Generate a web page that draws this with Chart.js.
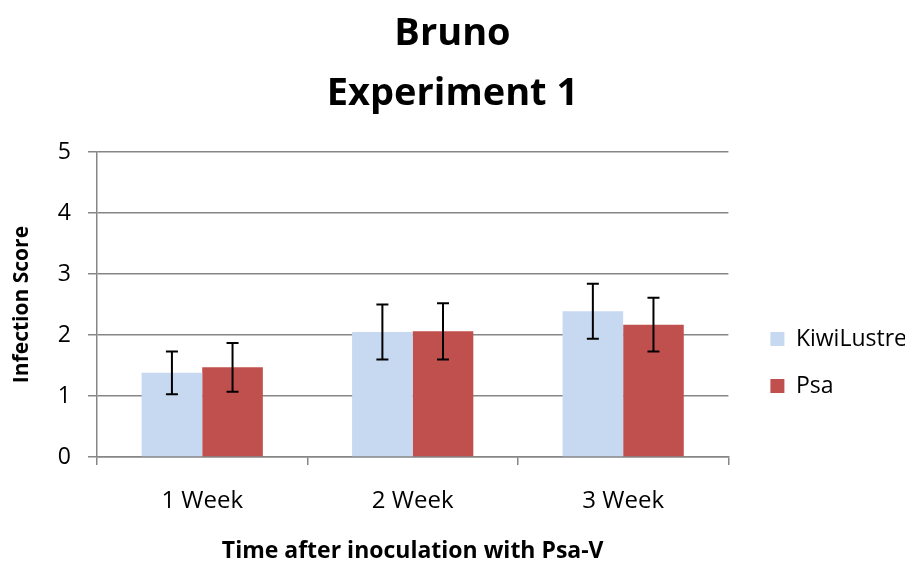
<!DOCTYPE html>
<html>
<head>
<meta charset="utf-8">
<script src="https://cdn.jsdelivr.net/npm/chart.js@4.4.1/dist/chart.umd.min.js"></script>
<style>
	html, body { margin: 0; padding: 0; background: #fff; }
	#wrap { width: 905px; height: 563px; }
</style>
</head>
<body>
<div id="wrap"><canvas id="c" width="905" height="563"></canvas></div>
<script>
const categories = ['1 Week', '2 Week', '3 Week'];
const seriesNames = ['KiwiLustre', 'Psa'];
const kiwiLustre = [1.38, 2.05, 2.39];
const psa = [1.47, 2.06, 2.17];
const kiwiLustreErr = [0.35, 0.45, 0.45];
const psaErr = [0.40, 0.46, 0.44];
const yTicks = [0, 1, 2, 3, 4, 5];

const FONT = '"Open Sans", sans-serif';
const GRID = '#868686';

// draws the black error bars on top of every bar
const errorBars = {
	id: 'errorBars',
	afterDatasetsDraw(chart) {
		const ctx = chart.ctx;
		const yScale = chart.scales.y;
		ctx.save();
		ctx.strokeStyle = '#000';
		ctx.lineWidth = 2;
		chart.data.datasets.forEach((ds, i) => {
			const meta = chart.getDatasetMeta(i);
			meta.data.forEach((bar, j) => {
				const v = ds.data[j], e = ds.errors[j];
				const top = yScale.getPixelForValue(v + e);
				const bot = yScale.getPixelForValue(v - e);
				ctx.beginPath();
				ctx.moveTo(bar.x, top); ctx.lineTo(bar.x, bot);
				ctx.moveTo(bar.x - 6, top); ctx.lineTo(bar.x + 6, top);
				ctx.moveTo(bar.x - 6, bot); ctx.lineTo(bar.x + 6, bot);
				ctx.stroke();
			});
		});
		ctx.restore();
	}
};

new Chart(document.getElementById('c'), {
	type: 'bar',
	data: {
		labels: categories,
		datasets: [
			{
				label: seriesNames[0],
				data: kiwiLustre,
				errors: kiwiLustreErr,
				backgroundColor: '#C6D9F1',
				borderWidth: 0
			},
			{
				label: seriesNames[1],
				data: psa,
				errors: psaErr,
				backgroundColor: '#C0504D',
				borderWidth: 0
			}
		]
	},
	options: {
		responsive: false,
		animation: false,
		// symmetric negative side padding keeps the title centred on the canvas
		layout: { padding: { left: -12, right: -12, top: 0, bottom: 0 } },
		datasets: { bar: { categoryPercentage: 0.576, barPercentage: 1.0 } },
		plugins: {
			tooltip: { enabled: false },
			title: {
				display: true,
				text: ['Bruno', 'Experiment 1'],
				color: '#000',
				font: { family: FONT, size: 38, weight: 'bold', lineHeight: 1.58 },
				padding: { top: 4, bottom: 28 }
			},
			legend: {
				position: 'right',
				maxWidth: 240,
				title: { display: true, text: ' ', font: { size: 10 }, padding: 75 },
				labels: {
					color: '#000',
					font: { family: FONT, size: 23 },
					boxWidth: 14,
					boxHeight: 14,
					padding: 24
				}
			}
		},
		scales: {
			x: {
				afterFit: s => { s.height = 106; },
				grid: { display: true, drawOnChartArea: false, offset: true, color: GRID, lineWidth: 1.5, tickLength: 8 },
				border: { color: GRID, width: 1.5 },
				ticks: { color: '#000', font: { family: FONT, size: 24 }, padding: 22 },
				title: { display: true, text: 'Time after inoculation with Psa-V', color: '#000', font: { family: FONT, size: 23, weight: 'bold', lineHeight: 1 }, padding: 0 }
			},
			y: {
				min: 0,
				max: 5,
				afterFit: s => { s.width = 109; },
				afterBuildTicks: s => { s.ticks = yTicks.map(v => ({ value: v })); },
				grid: { color: GRID, lineWidth: 1.5, tickLength: 9 },
				border: { color: GRID, width: 1.5 },
				ticks: { color: '#000', font: { family: FONT, size: 23 }, padding: 17 },
				title: { display: true, text: 'Infection Score', color: '#000', font: { family: FONT, size: 21, weight: 'bold' }, padding: { top: 21, bottom: 0 } }
			},
			// empty spacer between the plot and the legend
			gap: {
				type: 'linear',
				position: 'right',
				display: true,
				afterFit: s => { s.width = 18; },
				grid: { display: false },
				border: { display: false },
				ticks: { display: false }
			}
		}
	},
	plugins: [errorBars]
});
</script>
</body>
</html>
